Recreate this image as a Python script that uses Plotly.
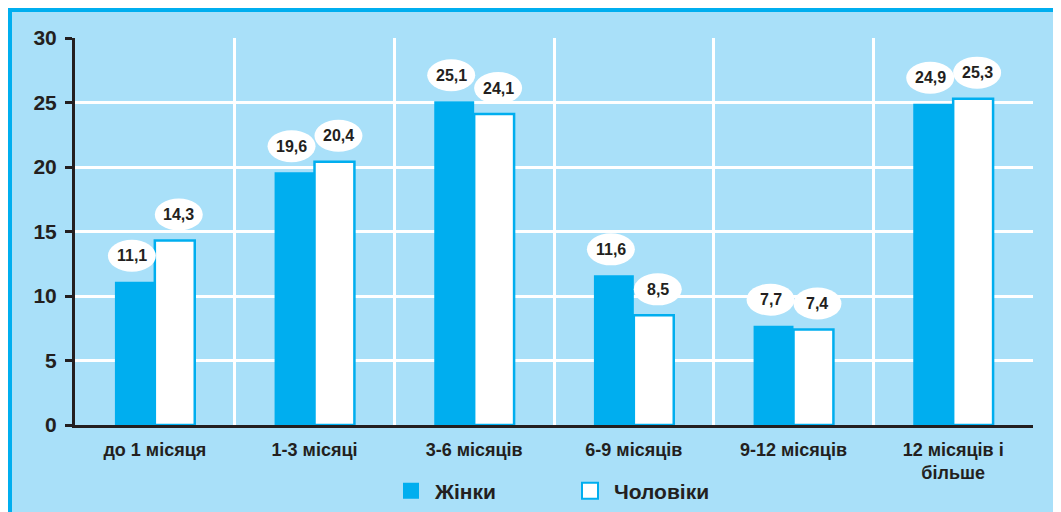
import plotly.graph_objects as go

categories = ["до 1 місяця", "1-3 місяці", "3-6 місяців", "6-9 місяців", "9-12 місяців", "12 місяців і<br>більше"]
women = [11.1, 19.6, 25.1, 11.6, 7.7, 24.9]
men = [14.3, 20.4, 24.1, 8.5, 7.4, 25.3]
women_labels = ["11,1", "19,6", "25,1", "11,6", "7,7", "24,9"]
men_labels = ["14,3", "20,4", "24,1", "8,5", "7,4", "25,3"]
series_names = ["Жінки", "Чоловіки"]

BLUE = "#00aeef"
BG = "#a9e0f9"
TXT = "#231f20"
FONT = "Liberation Sans"

# page body has an 8px margin, so the figure sits at (8, 8)
W, H = 1053, 504
L, R, T, B = 67, 28, 30, 87
pw, ph = W - L - R, H - T - B

fig = go.Figure()
fig.add_trace(go.Bar(x=categories, y=women, name=series_names[0], showlegend=False, legendgroup="w",
                     marker=dict(color=BLUE, line=dict(color=BLUE, width=0))))
fig.add_trace(go.Bar(x=categories, y=men, name=series_names[1], showlegend=False, legendgroup="m",
                     marker=dict(color="white", line=dict(color=BLUE, width=2.5))))
# legend entries with larger square swatches
fig.add_trace(go.Scatter(x=[None], y=[None], mode="markers", name=series_names[0], legendgroup="w",
                         marker=dict(symbol="square", size=16, color=BLUE, line=dict(color=BLUE, width=0))))
fig.add_trace(go.Scatter(x=[None], y=[None], mode="markers", name=series_names[1], legendgroup="m",
                         marker=dict(symbol="square", size=16, color="white", line=dict(color=BLUE, width=2))))

shapes = []
annotations = []
bw = 0.25
for i in range(len(categories)):
    for vals, labs, off, px in ((women, women_labels, -bw / 2, -3), (men, men_labels, bw / 2, 4)):
        xc = i + off
        shapes.append(dict(type="circle", xref="x", yref="y", xsizemode="pixel", ysizemode="pixel",
                           xanchor=xc, yanchor=vals[i], x0=px - 24, x1=px + 24, y0=10, y1=42,
                           fillcolor="white", line=dict(width=0), layer="above"))
        annotations.append(dict(x=xc, y=vals[i], xref="x", yref="y", text=labs[i], showarrow=False,
                                xshift=px, yshift=26, font=dict(family=FONT, size=16, color=TXT, weight="bold")))

# blue border along the top and left edge of the figure
shapes.insert(0, dict(type="rect", xref="paper", yref="paper",
                      x0=(2 - L) / pw, x1=(W + 20 - L) / pw,
                      y0=-(H + 20 - (H - B)) / ph, y1=((H - B) - 2) / ph,
                      fillcolor=BG, line=dict(color=BLUE, width=4), layer="below"))

fig.update_layout(
    width=W, height=H,
    margin=dict(l=L, r=R, t=T, b=B, autoexpand=False),
    paper_bgcolor=BG, plot_bgcolor="rgba(0,0,0,0)",
    barmode="group", bargap=0.5, bargroupgap=0,
    shapes=shapes, annotations=annotations,
    font=dict(family=FONT, color=TXT),
    legend=dict(orientation="h", x=0.5 + 12 / pw, xanchor="center", yref="container", y=(H - 483) / H,
                yanchor="middle",
                font=dict(family=FONT, size=21, color=TXT, weight="bold"),
                bgcolor="rgba(0,0,0,0)", entrywidth=126, itemwidth=38),
    xaxis=dict(type="category", tickson="boundaries", showgrid=True, gridcolor="white", gridwidth=3,
               showline=True, linecolor="#231f20", linewidth=3, ticks="", ticklabelstandoff=6,
               tickfont=dict(family=FONT, size=18, color=TXT, weight="bold"),
               range=[-0.5, 5.5], fixedrange=True, automargin=False),
    yaxis=dict(range=[0, 30], dtick=5, showgrid=True, gridcolor="white", gridwidth=3,
               showline=True, linecolor="#231f20", linewidth=3, ticks="outside", ticklen=7,
               tickwidth=3, tickcolor="#231f20", zeroline=False, ticklabelstandoff=4, automargin=False,
               tickfont=dict(family=FONT, size=21, color=TXT, weight="bold")),
)

fig.write_html("out.html")
